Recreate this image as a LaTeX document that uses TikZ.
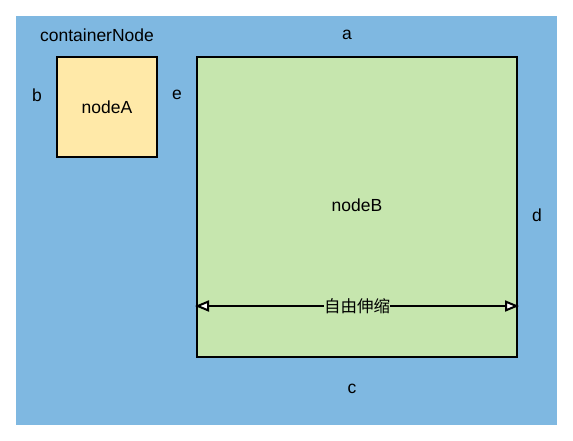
\documentclass[tikz,border=0pt]{standalone}
\usepackage{fontspec}
\setmainfont{Liberation Sans}
\newfontfamily\cjk{Noto Sans CJK SC}
\usepackage{xcolor}
\usetikzlibrary{arrows.meta,calc,positioning}
\definecolor{contblue}{RGB}{127,184,225}
\definecolor{nodeyellow}{RGB}{255,233,168}
\definecolor{nodegreen}{RGB}{198,230,174}
\tikzset{
    box/.style={draw, line width=2pt, inner sep=0pt},
    lbl/.style={font=\fontsize{17.5}{20}\selectfont, inner sep=1pt},
    openhead/.tip={Triangle[open, fill=white, length=14pt, width=11pt]}
}

\begin{document}
\begin{tikzpicture}[x=1pt, y=-1pt]
                        \useasboundingbox (0, 0) rectangle (573, 440);
                        \fill[contblue] (16, 16) rectangle (557, 425);

                        \node[lbl] (cont) at (97, 35) {containerNode};
                        \node[lbl] (la) at (347, 35) {a};
                        \node[lbl] (lb) at (37, 95) {b};
                        \node[lbl] (le) at (177, 95) {e};
                        \node[lbl] (ld) at (537, 215) {d};
                        \node[lbl] (lc) at (352, 389) {c};

                        \node[box, fill=nodeyellow, minimum width=100pt, minimum height=100pt] (nodea) at (107, 107) {};
                        \node[lbl] at (nodea) {nodeA};
                        \node[box, fill=nodegreen, minimum width=320pt, minimum height=300pt] (nodeb) at (357, 207) {};
                        \node[lbl] at (357, 205) {nodeB};

                        \coordinate (sl) at (195, 306);
                        \coordinate (sr) at (519, 306);
                        \draw[line width=2pt, openhead-openhead]
                        (sl) -- node[lbl, fill=nodegreen, inner sep=0pt, font=\cjk\fontsize{16.5}{20}\selectfont] (stretch) {自由伸缩} (sr);
                    \end{tikzpicture}
\end{document}
